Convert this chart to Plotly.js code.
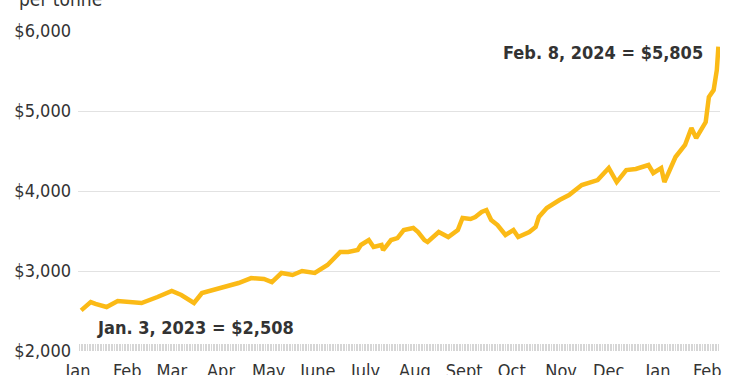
<!DOCTYPE html>
<html>
<head>
<meta charset="utf-8">
<script src="https://cdn.plot.ly/plotly-3.0.1.min.js"></script>
<style>html,body{margin:0;padding:0;background:#fff;}#chart{width:750px;height:375px;}</style>
</head>
<body>
<div id="chart"></div>
<script>
const dates = [
  "2023-01-03","2023-01-09","2023-01-12","2023-01-19","2023-01-26","2023-02-03","2023-02-10",
  "2023-02-20","2023-03-01","2023-03-07","2023-03-15","2023-03-20","2023-03-29","2023-04-04",
  "2023-04-12","2023-04-20","2023-04-28","2023-05-03","2023-05-09","2023-05-16","2023-05-22",
  "2023-05-30","2023-06-02","2023-06-07","2023-06-15","2023-06-20","2023-06-26","2023-06-28",
  "2023-07-03","2023-07-06","2023-07-11","2023-07-12","2023-07-17","2023-07-21","2023-07-25",
  "2023-07-31","2023-08-03","2023-08-07","2023-08-09","2023-08-16","2023-08-22","2023-08-28",
  "2023-08-31","2023-09-05","2023-09-08","2023-09-12","2023-09-15","2023-09-18","2023-09-22",
  "2023-09-27","2023-10-02","2023-10-05","2023-10-12","2023-10-16","2023-10-18","2023-10-23",
  "2023-10-31","2023-11-06","2023-11-14","2023-11-20","2023-11-24","2023-12-01","2023-12-06",
  "2023-12-12","2023-12-18","2023-12-26","2023-12-29","2024-01-03","2024-01-05","2024-01-12",
  "2024-01-18","2024-01-22","2024-01-25","2024-01-31","2024-02-02","2024-02-05","2024-02-07",
  "2024-02-08"
];
const prices = [
  2508,2612,2588,2550,2625,2612,2600,
  2675,2750,2700,2600,2725,2775,2812,
  2850,2912,2900,2862,2975,2950,3000,
  2975,3012,3075,3237,3237,3262,3325,
  3387,3300,3325,3262,3387,3412,3512,
  3537,3487,3387,3362,3487,3425,3512,
  3662,3650,3675,3737,3762,3637,3575,
  3450,3512,3425,3487,3550,3675,3787,
  3887,3950,4075,4112,4137,4287,4112,
  4262,4275,4325,4225,4287,4112,4425,
  4575,4787,4662,4862,5175,5262,5512,
  5805
];
const monthTicks = ["2023-01-01","2023-02-01","2023-03-01","2023-04-01","2023-05-01","2023-06-01",
  "2023-07-01","2023-08-01","2023-09-01","2023-10-01","2023-11-01","2023-12-01","2024-01-01","2024-02-01"];
const monthLabels = ["Jan","Feb","Mar","Apr","May","June","July","Aug","Sept","Oct","Nov","Dec","Jan","Feb"];
const yTicks = [2000,3000,4000,5000,6000];
const yLabels = ["$2,000","$3,000","$4,000","$5,000","$6,000"];
const subtitle = "per tonne";
const startNote = "Jan. 3, 2023 = $2,508";
const endNote = "Feb. 8, 2024 = $5,805";

const FONT = "'DejaVu Sans Condensed', 'Liberation Sans Narrow', sans-serif";

const trace = {
  x: dates, y: prices, type: "scatter", mode: "lines",
  line: {color: "#FBBA16", width: 4.5},
  hoverinfo: "skip"
};

const layout = {
  width: 750, height: 375,
  margin: {l: 78, r: 30, t: 31, b: 24},
  paper_bgcolor: "#fff", plot_bgcolor: "#fff",
  showlegend: false,
  font: {family: FONT, color: "#333", size: 18},
  xaxis: {
    type: "date",
    range: ["2023-01-01", "2024-02-09"],
    tickmode: "array", tickvals: monthTicks, ticktext: monthLabels,
    ticks: "inside", ticklen: 7, tickcolor: "#d6d6d6", tickwidth: 1,
    minor: {tickmode: "linear", tick0: "2023-01-01", dtick: 86400000, ticks: "inside", ticklen: 7, tickcolor: "#d6d6d6", tickwidth: 1, showgrid: false},
    showgrid: false, zeroline: false, showline: false,
    tickfont: {family: FONT, size: 18, color: "#333"},
    ticklabelstandoff: 7
  },
  yaxis: {
    range: [2000, 6000],
    tickmode: "array", tickvals: yTicks, ticktext: yLabels,
    showgrid: true, gridcolor: "#e2e2e2", gridwidth: 1,
    zeroline: false, showline: false, ticks: "",
    tickfont: {family: FONT, size: 18, color: "#333"},
    ticklabelstandoff: 6
  },
  annotations: [
    {xref: "paper", yref: "paper", x: -0.095, y: 1.059, xanchor: "left", yanchor: "bottom",
     text: subtitle, showarrow: false, font: {family: FONT, size: 19, color: "#333"}},
    {xref: "paper", yref: "paper", x: 0.976, y: 0.934, xanchor: "right", yanchor: "middle",
     text: "<b>" + endNote + "</b>", showarrow: false, font: {family: FONT, size: 18, color: "#333"}},
    {xref: "paper", yref: "paper", x: 0.027, y: 0.075, xanchor: "left", yanchor: "middle",
     text: "<b>" + startNote + "</b>", showarrow: false, font: {family: FONT, size: 18, color: "#333"}}
  ]
};

Plotly.newPlot("chart", [trace], layout, {displayModeBar: false, staticPlot: true});
</script>
</body>
</html>
